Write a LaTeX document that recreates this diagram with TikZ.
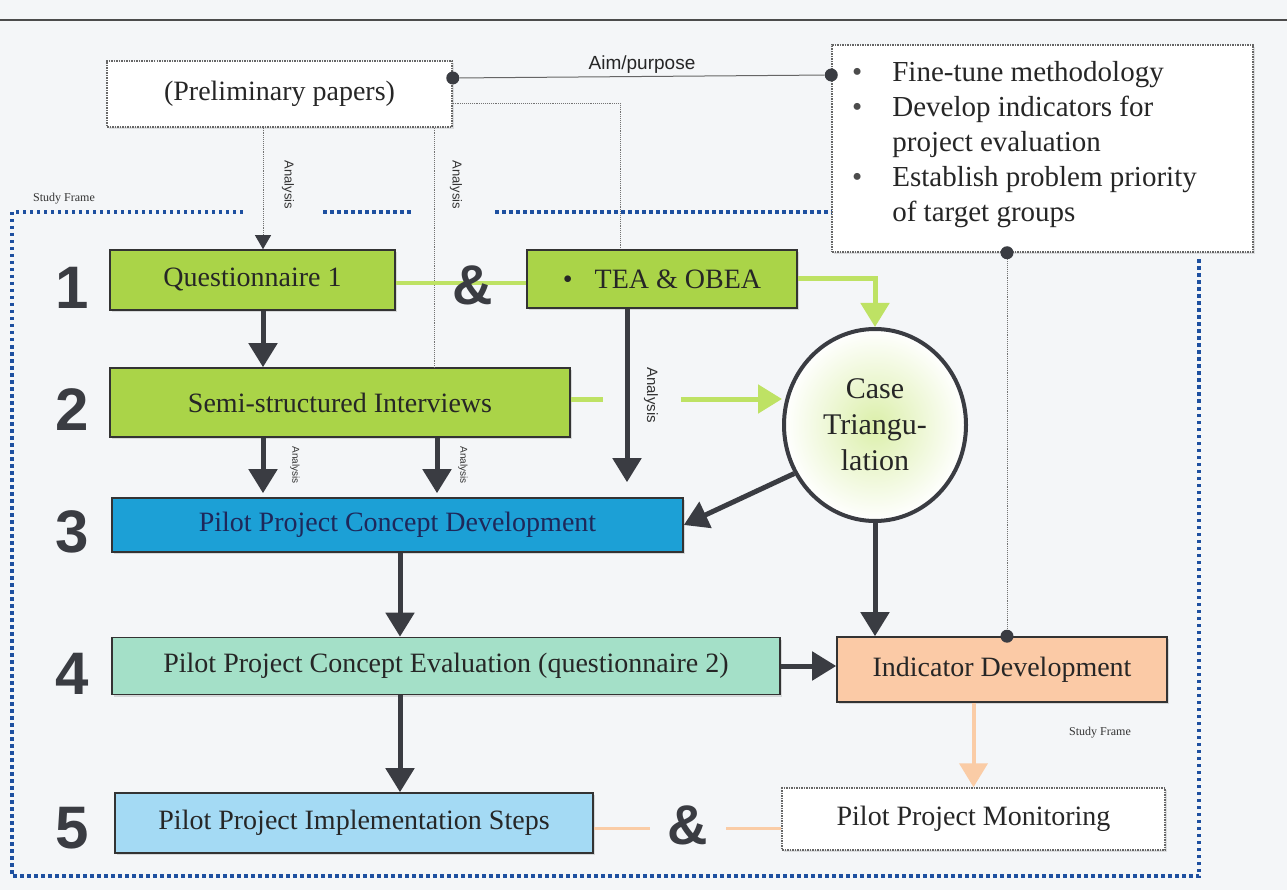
\documentclass[tikz,border=0pt]{standalone}
\usepackage{fontspec}
\setmainfont{Liberation Serif}
\newfontfamily\sansf{Liberation Sans}
\usetikzlibrary{arrows.meta,shapes.geometric,shadows}
\definecolor{bgc}{RGB}{244,246,248}
\definecolor{dk}{RGB}{58,60,66}
\definecolor{qgreen}{RGB}{170,212,72}
\definecolor{lgreen}{RGB}{190,226,100}
\definecolor{pblue}{RGB}{28,160,214}
\definecolor{mint}{RGB}{164,224,200}
\definecolor{peach}{RGB}{251,202,166}
\definecolor{lorange}{RGB}{250,204,166}
\definecolor{lblue}{RGB}{164,218,244}
\definecolor{frameblue}{RGB}{30,80,160}
\begin{document}
\begin{tikzpicture}[x=1pt,y=-1pt,
  box/.style={draw=black!80, line width=1.6pt, font=\fontsize{28}{32}\selectfont, text=black!85,
    drop shadow={opacity=0.25, shadow xshift=2pt, shadow yshift=-2pt}},
  dotbox/.style={draw=black!60, line width=1.5pt, densely dotted, fill=white, font=\fontsize{28}{32}\selectfont, text=black!85,
    drop shadow={opacity=0.2, shadow xshift=2pt, shadow yshift=-2pt}},
  darr/.style={draw=dk, line width=5pt, -{Triangle[length=24pt,width=28pt]}},
  garr/.style={draw=lgreen, line width=5pt, -{Triangle[length=24pt,width=28pt]}},
  oarr/.style={draw=lorange, line width=4pt, -{Triangle[length=24pt,width=28pt]}},
  thindot/.style={draw=black!55, line width=0.9pt, densely dotted},
  dotmark/.style={circle, fill=dk, inner sep=0pt, minimum size=13pt},
  numlab/.style={font=\sansf\bfseries\fontsize{60}{60}\selectfont, text=dk},
  amp/.style={font=\sansf\bfseries\fontsize{56}{56}\selectfont, text=dk},
  anal/.style={font=\sansf\fontsize{13}{13}\selectfont, rotate=-90, text=black!80},
  smanal/.style={font=\sansf\fontsize{10}{10}\selectfont, rotate=-90, text=black!80},
  sflab/.style={font=\fontsize{12}{12}\selectfont, text=black!80},
  framel/.style={draw=frameblue, line width=3.5pt, dash pattern=on 3.5pt off 3.5pt}
]
\useasboundingbox (0,0) rectangle (1287,890);
\fill[bgc] (0,0) rectangle (1287,890);
% header rule
\draw[black!70, line width=1.5pt] (0,20) -- (1287,20);

% study frame
\draw[framel] (243,212) -- (12,212) -- (12,876) -- (1199,876) -- (1199,256);
\draw[framel] (323,212) -- (413,212);
\draw[framel] (495,212) -- (832,212);
\node[sflab] (sf1) at (64,199) {Study Frame};
\node[sflab] (sf2) at (1100,733) {Study Frame};

% nodes
\node[dotbox, minimum width=345pt, minimum height=66pt] (prelim) at (279.5,94) {(Preliminary papers)};
\node[dotbox, minimum width=421pt, minimum height=207pt] (goals) at (1042.5,148.5) {};
\node[anchor=north west, font=\fontsize{29}{35}\selectfont, text=black!85, inner sep=0pt] (goalstext) at (852,57)
 {\begin{tabular}{@{}l@{\hspace{30pt}}l@{}}
 {\color{black!70}\textbullet} & Fine-tune methodology\\
 {\color{black!70}\textbullet} & Develop indicators for\\
 & project evaluation\\
 {\color{black!70}\textbullet} & Establish problem priority\\
 & of target groups
 \end{tabular}};

\node[box, fill=qgreen, minimum width=285pt, minimum height=60pt] (q1) at (252.5,280) {Questionnaire 1};
\node[box, fill=qgreen, minimum width=270pt, minimum height=58pt] (tea) at (662,279) {\textbullet\hspace{22pt}TEA \& OBEA};
\node[box, fill=qgreen, minimum width=460pt, minimum height=69pt] (semi) at (340,402.5) {Semi-structured Interviews};
\node[ellipse, draw=dk, line width=4pt, minimum width=182pt, minimum height=192pt, shade, shading=radial,
  inner color=lgreen!55, outer color=white, align=center, font=\fontsize{30}{36}\selectfont, text=black!85] (ct) at (875,425) {Case\\Triangu-\\lation};
\node[box, fill=pblue, minimum width=571pt, minimum height=54pt, text={rgb,255:red,30;green,40;blue,90}] (pcd) at (397.5,525) {Pilot Project Concept Development};
\node[box, fill=mint, minimum width=668pt, minimum height=57pt] (eval) at (446,666) {Pilot Project Concept Evaluation (questionnaire 2)};
\node[box, fill=peach, minimum width=330pt, minimum height=65pt] (ind) at (1002,669.5) {Indicator Development};
\node[box, fill=lblue, minimum width=478pt, minimum height=60pt] (impl) at (354,823) {Pilot Project Implementation Steps};
\node[dotbox, minimum width=383pt, minimum height=62pt] (mon) at (973.5,819) {Pilot Project Monitoring};

% step numbers
\node[numlab] (n1) at (72,288) {1};
\node[numlab] (n2) at (72,410) {2};
\node[numlab] (n3) at (72,532) {3};
\node[numlab] (n4) at (72,674) {4};
\node[numlab] (n5) at (72,828) {5};

% coordinates for verticals
\coordinate (xa) at (263,0);
\coordinate (xb) at (434,0);
\coordinate (xc) at (437,0);
\coordinate (xd) at (627,0);
\coordinate (xe) at (400,0);

% preliminary connections
\draw[thindot, -{Triangle[length=14pt,width=16pt,fill=dk,color=dk]}] (prelim.south -| xa) -- (q1.north -| xa);
\node[anal] (an1) at (288,185) {Analysis};
\draw[thindot] (prelim.south -| xb) -- (semi.north -| xb);
\node[anal] (an2) at (456,185) {Analysis};
\draw[thindot] ([yshift=-9pt]prelim.east) -| ([xshift=-42pt]tea.north);
\node[dotmark] (d1) at ([yshift=16pt]prelim.east) {};
\node[dotmark] (d2) at ([yshift=73.5pt]goals.west) {};
\draw[black!60, line width=1pt] (d1) -- node[above=-1pt, font=\sansf\fontsize{19}{19}\selectfont, text=black!85] {Aim/purpose} (d2);
\node[dotmark] (d3) at ([xshift=-35.5pt]goals.south) {};
\node[dotmark] (d4) at (d3 |- ind.north) {};
\draw[thindot] (d3) -- (d4);

% step 1
\draw[lgreen, line width=4pt] ([yshift=-3pt]q1.east) -- ([yshift=-3pt]q1.east -| tea.west);
\node[amp] (amp1) at (473,285) {\&};
\draw[garr] (tea.east) -| (ct.north);
\draw[darr] (q1.south -| xa) -- (semi.north -| xa);

% step 2
\draw[garr, dash pattern=on 32pt off 78pt on 300pt] ([yshift=3.5pt]semi.east) -- ([yshift=3.5pt]semi.east -| ct.west);
\draw[darr] (tea.south -| xd) -- ([yshift=15pt]pcd.north -| xd);
\node[anal, font=\sansf\fontsize{15}{15}\selectfont] (an3) at (651,395) {Analysis};
\draw[darr] (semi.south -| xa) -- ([yshift=4pt]pcd.north -| xa);
\node[smanal] (an4) at (295,465) {Analysis};
\draw[darr] (semi.south -| xc) -- ([yshift=4pt]pcd.north -| xc);
\node[smanal] (an5) at (463,465) {Analysis};

% step 3
\draw[darr] (ct.211) -- (pcd.east);
\draw[darr] (ct.south) -- (ct.south |- ind.north);
\draw[darr] (pcd.south -| xe) -- (eval.north -| xe);

% step 4
\draw[darr] (eval.east) -- (eval.east -| ind.west);
\draw[darr] (eval.south -| xe) -- (impl.north -| xe);
\draw[oarr] (mon.north |- ind.south) -- (mon.north);

% step 5
\draw[lorange, line width=3pt] ([yshift=-5pt]impl.east) -- ([yshift=-5pt]impl.east -| mon.west);
\node[amp, fill=bgc, inner xsep=18pt, inner ysep=2pt] (amp2) at (688,825) {\&};
\end{tikzpicture}
\end{document}
